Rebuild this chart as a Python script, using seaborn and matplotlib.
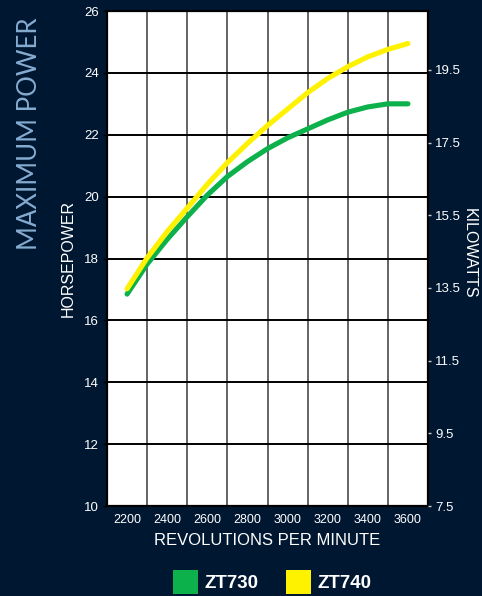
import pandas as pd
import seaborn as sns
import matplotlib.pyplot as plt
from matplotlib.patches import Patch

rpm = [2200, 2300, 2400, 2500, 2600, 2700, 2800, 2900, 3000, 3100, 3200, 3300, 3400, 3500, 3600]
zt730_hp = [16.85, 17.82, 18.62, 19.35, 20.05, 20.65, 21.13, 21.55, 21.9, 22.19, 22.48, 22.73, 22.9, 23.0, 23.0]
zt740_hp = [17.02, 18.02, 18.87, 19.63, 20.4, 21.1, 21.72, 22.3, 22.83, 23.36, 23.82, 24.2, 24.52, 24.76, 24.95]

rpm_labels = [2200, 2400, 2600, 2800, 3000, 3200, 3400, 3600]
hp_ticks = [10, 12, 14, 16, 18, 20, 22, 24, 26]
kw_ticks = [7.5, 9.5, 11.5, 13.5, 15.5, 17.5, 19.5]

bg = "#001731"
green = "#0db14b"
yellow = "#fff200"

sns.set_theme(style="white")
plt.rcParams['font.family'] = ['Liberation Sans', 'DejaVu Sans']

df = pd.DataFrame({"rpm": rpm + rpm,
                   "hp": zt730_hp + zt740_hp,
                   "model": ["ZT730"] * len(rpm) + ["ZT740"] * len(rpm)})

fig = plt.figure(figsize=(4.82, 5.96), dpi=100, facecolor=bg)
ax = fig.add_axes([0.222, 0.151, 0.666, 0.8305])
ax.set_facecolor("white")

sns.lineplot(df, x="rpm", y="hp", hue="model", palette={"ZT730": green, "ZT740": yellow},
             linewidth=3.7, ax=ax, legend=False, solid_capstyle="round", solid_joinstyle="round", zorder=5)

ax.set_xlim(2100, 3700)
ax.set_ylim(10, 26)
ax.set_xticks(range(2300, 3600, 200))
ax.set_xticklabels([])
ax.set_xticks(rpm_labels, minor=True)
ax.set_xticklabels([str(v) for v in rpm_labels], minor=True)
ax.tick_params(axis="x", which="major", length=3, width=1, color="black", direction="out")
ax.tick_params(axis="x", which="minor", length=0, pad=6, labelsize=9, labelcolor="white")
ax.set_yticks(hp_ticks)
ax.set_yticklabels([str(v) for v in hp_ticks])
ax.tick_params(axis="y", length=3, width=1, color="black", direction="out", pad=3,
               labelsize=9.5, labelcolor="white", left=True)

ax.grid(True, axis="y", which="major", color="black", linewidth=1.4)
ax.grid(True, axis="x", which="major", color="#3a3a3a", linewidth=1.1)
for s in ax.spines.values():
    s.set_color("black")
    s.set_linewidth(1.6)

ax.set_xlabel("REVOLUTIONS PER MINUTE", color="white", fontsize=12, labelpad=5)
ax.set_ylabel("HORSEPOWER", color="white", fontsize=11.5, va="center")
ax.yaxis.set_label_coords(-0.122, 0.5)

ax2 = ax.twinx()
ax2.set_ylim(7.5, 21.12)
ax2.set_yticks(kw_ticks)
ax2.set_yticklabels([str(v) for v in kw_ticks])
ax2.tick_params(axis="y", length=2, width=1, color="#cccccc", pad=3, labelsize=9.5, labelcolor="white")
ax2.set_ylabel("KILOWATTS", color="white", fontsize=11.5, rotation=270, va="center")
ax2.yaxis.set_label_coords(1.13, 0.51)
for s in ax2.spines.values():
    s.set_visible(False)

fig.text(0.062, 0.775, "MAXIMUM POWER", rotation=90, color="#86acd2", fontsize=18.5,
         family=["Lato", "DejaVu Sans"], fontweight="normal", ha="center", va="center")

handles = [Patch(facecolor=green, label="ZT730"), Patch(facecolor=yellow, label="ZT740")]
leg = fig.legend(handles=handles, loc="lower center", bbox_to_anchor=(0.565, -0.025), ncol=2,
                 frameon=False, handlelength=1.3, handleheight=1.6, columnspacing=1.5,
                 handletextpad=0.35, prop={"size": 13.5, "weight": "bold"})
for t in leg.get_texts():
    t.set_color("white")
for h in leg.legend_handles:
    h.set_edgecolor("none")

plt.savefig("out.png", dpi=100, facecolor=bg)
